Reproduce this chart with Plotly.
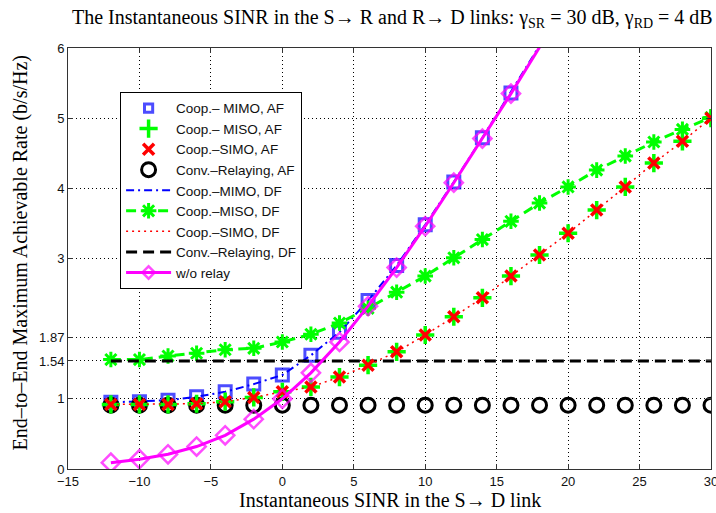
import plotly.graph_objects as go

# Instantaneous SINR on the S->D link (dB)
snr_db = [-12, -10, -8, -6, -4, -2, 0, 2, 4, 6, 8, 10, 12, 14, 16, 18, 20, 22, 24, 26, 28, 30]

# End-to-end maximum achievable rate (b/s/Hz)
mimo = [0.95, 0.96, 0.98, 1.03, 1.10, 1.21, 1.34, 1.62, 1.95, 2.40, 2.90, 3.48, 4.09, 4.72, 5.36,
        6.01, 6.67, 7.33, 7.99, 8.65, 9.31, 9.97]
miso_df = [1.56, 1.56, 1.61, 1.65, 1.70, 1.72, 1.81, 1.92, 2.08, 2.29, 2.52, 2.75, 3.01, 3.27, 3.53,
           3.79, 4.02, 4.26, 4.46, 4.66, 4.84, 5.01]
simo = [0.92, 0.92, 0.92, 0.93, 0.96, 1.02, 1.10, 1.17, 1.31, 1.48, 1.67, 1.91, 2.17, 2.44, 2.75,
        3.05, 3.36, 3.69, 4.02, 4.36, 4.67, 5.00]
conv_af = [0.91] * len(snr_db)
conv_df = [1.54] * len(snr_db)
no_relay = [0.09, 0.14, 0.21, 0.32, 0.48, 0.71, 1.00, 1.37, 1.81, 2.32, 2.87, 3.46, 4.08, 4.71, 5.35,
            6.01, 6.66, 7.32, 7.98, 8.65, 9.31, 9.97]

y_ticks = [0, 1, 1.54, 1.87, 3, 4, 5, 6]
x_ticks = [-15, -10, -5, 0, 5, 10, 15, 20, 25, 30]
Y_MAX = 6

SERIF = "Liberation Serif"
SANS = "Liberation Sans"


def sizes(values, size):
    # markers whose centre lies above the axis are not drawn
    return [size if v <= Y_MAX else 0 for v in values]


fig = go.Figure()

# (name, legend rank, trace kwargs) in drawing order
traces = [
    ("Coop.–MIMO, DF", 5, dict(y=mimo, mode="lines",
                               line=dict(color="#0000ff", width=2, dash="8px,4px,2px,4px"))),
    ("Coop.– MIMO, AF", 1, dict(y=mimo, mode="markers",
                                marker=dict(symbol="square-open", size=sizes(mimo, 12), color="#0000ff",
                                            line=dict(width=3, color="#0000ff")))),
    ("Coop.–MISO, DF", 6, dict(y=miso_df, mode="lines+markers",
                               line=dict(color="#00ff00", width=3, dash="10px,6px"),
                               marker=dict(symbol="asterisk-open", size=13, color="#00ff00",
                                           line=dict(width=3, color="#00ff00")))),
    ("Conv.–Relaying, DF", 8, dict(y=conv_df, mode="lines",
                                   line=dict(color="black", width=3, dash="11px,6px"))),
    ("Conv.–Relaying, AF", 4, dict(y=conv_af, mode="markers",
                                   marker=dict(symbol="circle-open", size=14, color="black",
                                               line=dict(width=3, color="black")))),
    ("Coop.– MISO, AF", 2, dict(y=simo, mode="markers",
                                marker=dict(symbol="cross-thin-open", size=13, color="#00ff00",
                                            line=dict(width=3.5, color="#00ff00")))),
    ("Coop.–SIMO, AF", 3, dict(y=simo, mode="markers",
                               marker=dict(symbol="x-thin-open", size=11, color="#ff0000",
                                           line=dict(width=3.5, color="#ff0000")))),
    ("Coop.–SIMO, DF", 7, dict(y=simo, mode="lines",
                               line=dict(color="#ff0000", width=1.5, dash="2px,4px"))),
    ("w/o relay", 9, dict(y=no_relay, mode="lines+markers",
                          line=dict(color="#ff00ff", width=3),
                          marker=dict(symbol="diamond-open", size=sizes(no_relay, 14), color="#ff00ff",
                                      line=dict(width=2.5, color="#ff00ff")))),
]

for i, (name, rank, kw) in enumerate(traces):
    fig.add_trace(go.Scatter(x=snr_db, name=name, legendrank=rank, legendgroup=f"g{i}",
                             cliponaxis=True, **kw))

axis_common = dict(
    showline=True, linecolor="#333333", linewidth=1, mirror="ticks",
    ticks="inside", ticklen=5, tickcolor="#333333", tickwidth=1,
    showgrid=True, gridcolor="black", gridwidth=1, griddash="1px,3px",
    zeroline=False, tickfont=dict(family=SANS, size=13, color="#111111"),
    ticklabeloverflow="allow", automargin=False,
)

fig.update_xaxes(range=[-15, 30], tickvals=x_ticks,
                 ticktext=[str(t).replace("-", "−") for t in x_ticks], **axis_common)
fig.update_yaxes(range=[0, Y_MAX], tickvals=y_ticks,
                 ticktext=[f"{t:g}" for t in y_ticks], **axis_common)

fig.update_layout(
    width=716, height=513,
    margin=dict(l=68, r=5, t=48, b=44, autoexpand=False),
    paper_bgcolor="white", plot_bgcolor="white",
    showlegend=True,
    legend=dict(x=0.081, y=0.896, xanchor="left", yanchor="top",
                bgcolor="white", bordercolor="black", borderwidth=1,
                font=dict(family=SANS, size=13.5, color="#111111"),
                itemwidth=45, tracegroupgap=0, traceorder="normal"),
    annotations=[
        dict(text="The Instantaneous SINR in the S→ R and R→ D links: "
                  "γ<sub>SR</sub> = 30 dB, γ<sub>RD</sub> = 4 dB",
             xref="paper", yref="paper", x=0.505, y=1.0, yshift=30, showarrow=False,
             xanchor="center", yanchor="middle",
             font=dict(family=SERIF, size=20, color="black")),
        dict(text="Instantaneous SINR in the S→ D link",
             xref="paper", yref="paper", x=0.5, y=0, yshift=-31, showarrow=False,
             xanchor="center", yanchor="middle",
             font=dict(family=SERIF, size=20, color="black")),
        dict(text="End–to–End Maximum Achievable Rate (b/s/Hz)",
             xref="paper", yref="paper", x=0, xshift=-48, y=0.5, yshift=5, showarrow=False,
             xanchor="center", yanchor="middle", textangle=-90,
             font=dict(family=SERIF, size=20, color="black")),
    ],
)

fig.write_html("out.html")
